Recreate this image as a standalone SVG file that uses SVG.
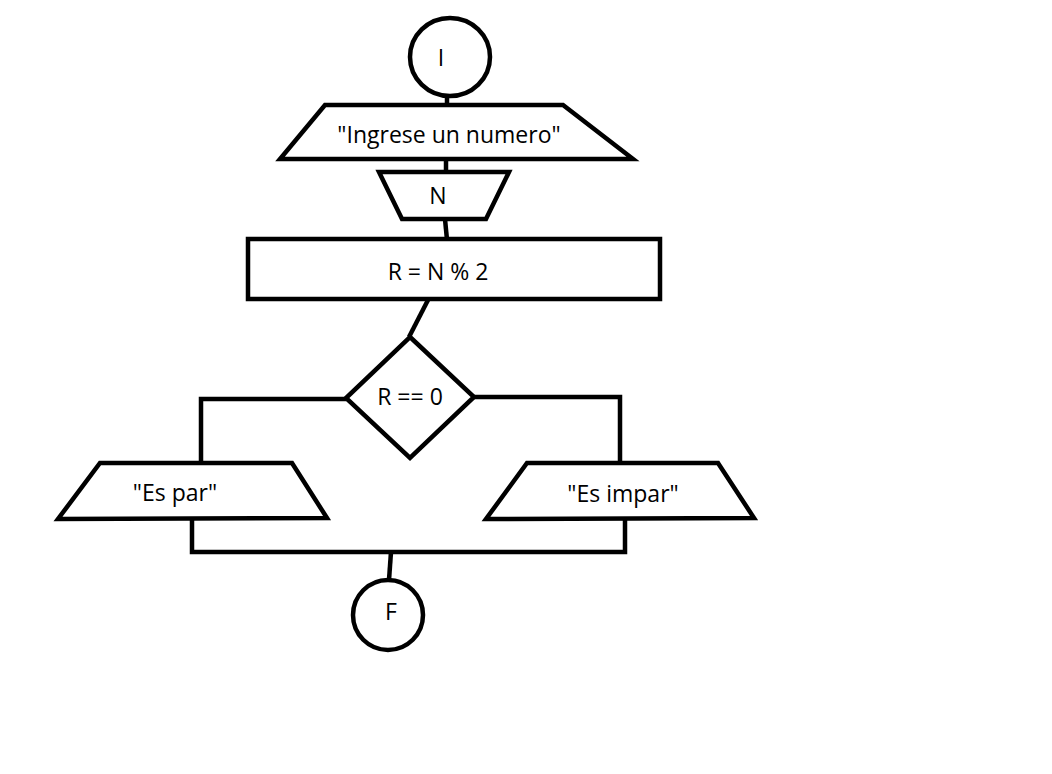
<svg xmlns="http://www.w3.org/2000/svg" width="1052" height="774" viewBox="0 0 1052 774">
<style>
.s{fill:none;stroke:#000;stroke-width:4.5;stroke-linejoin:miter}
.f{fill:#fff;stroke:#000;stroke-width:4.5}
.t{font-family:"Open Sans","Noto Sans",sans-serif;font-size:23px;fill:#000;text-anchor:middle;dominant-baseline:central}
</style>
<rect width="1052" height="774" fill="#fff"/>
<g id="connectors">
<path class="s" d="M447,96 L447,106"/>
<path class="s" d="M446,158 L446,174"/>
<path class="s" d="M445,219 L447,240"/>
<path class="s" d="M428,300 L409,337"/>
<path class="s" d="M346,399 L201,399 L201,463"/>
<path class="s" d="M474,397 L620,397 L620,463"/>
<path class="s" d="M192,519 L192,552 L625,552 L625,519"/>
<path class="s" d="M391,552 L389,580"/>
</g>
<g id="start">
<ellipse class="f" cx="450" cy="57" rx="40" ry="39"/>
<text class="t" x="441" y="57">I</text>
</g>
<g id="input-prompt">
<polygon class="f" points="325,105 563,105 633,159 280,159"/>
<text class="t" x="449" y="134">"Ingrese un numero"</text>
</g>
<g id="read-n">
<polygon class="f" points="379,172 509,172 486,219 402,219"/>
<text class="t" x="438" y="195">N</text>
</g>
<g id="process">
<rect class="f" x="248" y="239" width="412" height="60"/>
<text class="t" x="438" y="271">R = N % 2</text>
</g>
<g id="decision">
<polygon class="f" points="410,337 474,397 410,458 346,398"/>
<text class="t" x="410" y="396">R == 0</text>
</g>
<g id="out-par">
<polygon class="f" points="100,463 292,463 327,518 58,519"/>
<text class="t" x="175" y="492">"Es par"</text>
</g>
<g id="out-impar">
<polygon class="f" points="527,463 718,463 754,518 486,519"/>
<text class="t" x="623" y="493">"Es impar"</text>
</g>
<g id="end">
<ellipse class="f" cx="388" cy="615" rx="35" ry="35"/>
<text class="t" x="391" y="611">F</text>
</g>
</svg>
